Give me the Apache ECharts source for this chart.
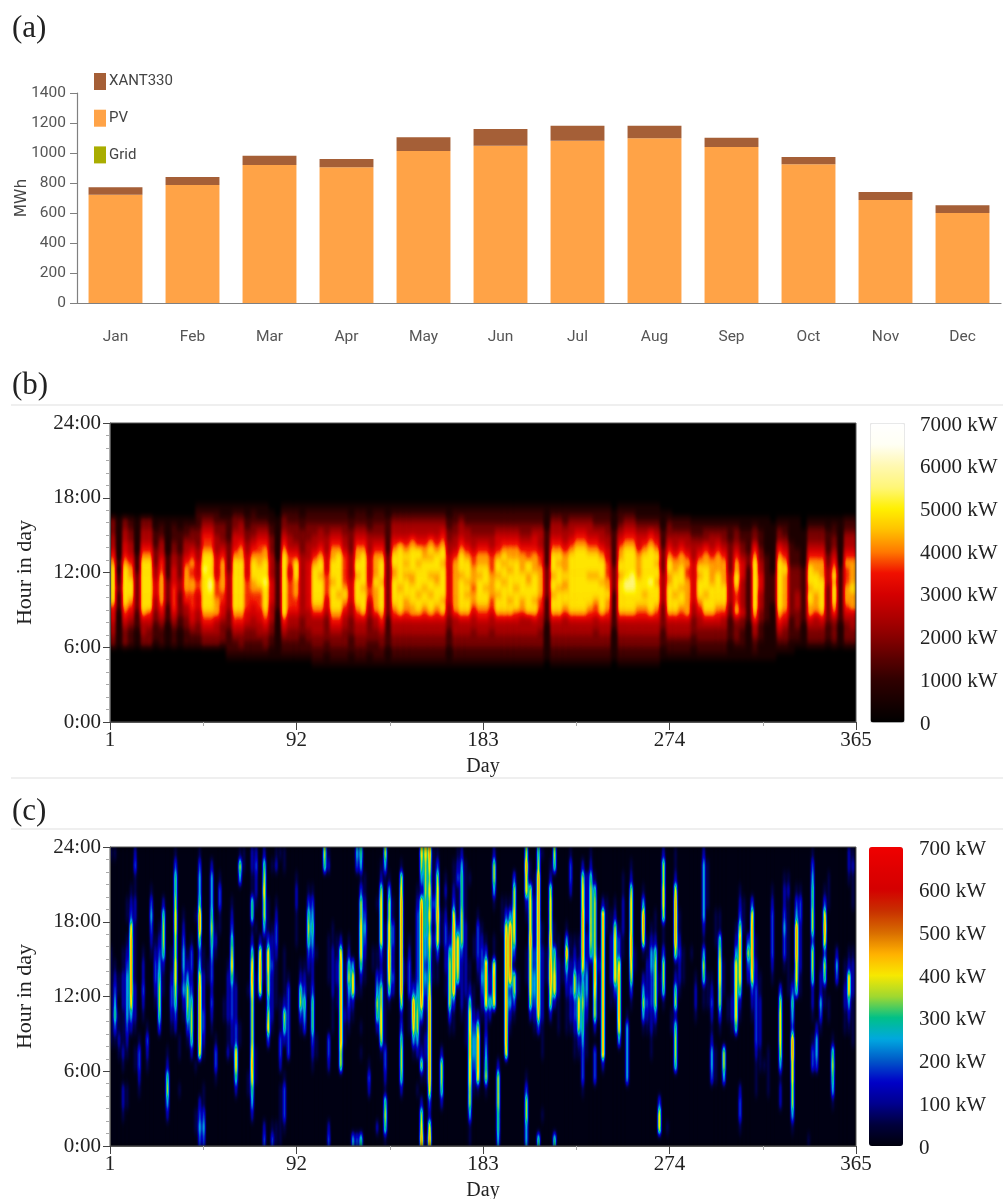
<!DOCTYPE html>
<html><head><meta charset="utf-8"><style>html,body{margin:0;background:#fff}
#c{position:absolute;left:0;top:0;width:1003px;height:1199px;z-index:2}
.clip{position:absolute;left:110px;width:746px;height:299px;overflow:hidden;background:#000;z-index:1}
.clip>div{width:746px;height:299px}</style>
<script src="https://cdn.jsdelivr.net/npm/echarts@6/dist/echarts.min.js"></script></head><body>
<svg width="0" height="0" style="position:absolute" id="fx"></svg>
<div class="clip" style="top:423px"><div id="pvHeat"></div></div>
<div class="clip" style="top:847px"><div id="windHeat"></div></div>
<div id="c"></div>
<script>
const months=['Jan','Feb','Mar','Apr','May','Jun','Jul','Aug','Sep','Oct','Nov','Dec'];
const pvMonthly=[722,787,920,905,1013,1049,1082,1098,1040,925,686,600];
const xantMonthly=[50,53,62,55,92,111,100,84,62,48,54,52];
const gridMonthly=[0,0,0,0,0,0,0,0,0,0,0,0];
const pvLevels=[0,610,1220,1830,2440,3050,3660,4270,4880,5490];
const windLevels=[14,80,165,255,345,430,500,570,640,700];
const pvStops=['#000000','#180000','#300000','#5a0000','#880000','#b00000','#d40000','#f01000','#ff7a00','#ffc000','#fff000','#fff678','#fff8b0','#fffff4','#ffffff'];
const windStops=['#00000c','#00003c','#000090','#0000c8','#0058c8','#00a8e0','#00c088','#a0d830','#f8e800','#ffb000','#d86c00','#c83000','#d40000','#e00000','#f00000'];
// PV power: one string per 3 days, half-hour cells from 4:30 to 17:30, level 0-9
const pvColsA=[
"0003 3445 5688 8888 7654 4333 00","0001 1111 1222 3221 2111 1111 00","0003 3345 6788 8888 7655 4433 00","0002 2234 5678 8877 6544 3322 00",
"0001 1122 2333 3332 2211 1111 00","0003 3445 7888 8888 8765 4433 00","0003 3345 6888 8888 8765 4433 00","0001 2223 3445 5544 3332 2211 00",
"0002 2234 5677 7776 6544 3221 00","0001 1112 2233 3322 2211 1111 00","0002 2234 5666 6555 4433 2221 00","0001 1122 3333 4433 3322 2211 00",
"0002 2233 4466 7777 6544 3221 00","0002 2345 5666 7766 7654 3321 00","0002 2334 4555 6655 5443 3322 21","0003 3456 7888 8889 8876 6543 21",
"0003 3456 7888 9988 8876 6543 21","0003 3445 7776 6655 5544 4332 21","0002 3334 5566 7777 7654 3332 11","0122 2233 3444 4443 3333 2222 11",
"0122 3456 7888 8888 8765 5433 21","0123 3456 7888 8888 8776 5443 21","0122 3345 5666 6655 5544 3322 11","0122 3344 5566 7788 8765 4332 21",
"0122 3445 5666 7888 7766 5432 11","0123 3456 7888 8988 8776 5432 11","0112 2334 4455 5544 4433 3221 10","0111 1111 1222 2222 2111 1111 00",
"0122 3456 8888 8888 8876 5433 21","0122 3344 5666 6655 6654 4332 21"];
const pvColsB=[
"0122 3344 5667 7788 8654 3332 21","0122 2333 4444 4444 4433 3322 11","0122 3344 4555 5555 5444 3332 21","1223 3444 6788 8888 7654 4332 21",
"1223 3444 6788 8878 8765 4432 21","1122 3333 4556 6665 5544 4332 21","1223 3456 7888 8788 8776 5432 21","1223 3456 7887 8888 8876 5432 21",
"1223 3344 5678 7666 6654 4332 21","1122 2333 4455 5544 4433 3322 11","1223 3445 6788 8878 8776 5432 21","1223 3445 7888 7888 8876 5432 21",
"1122 3333 4456 6555 5544 4322 11","1222 3344 6777 7877 7765 4332 21","1223 3456 7888 8788 8765 4332 21","1112 2222 3333 3333 3322 2222 11",
"1223 3445 6788 8877 8876 5443 21","1223 3445 7888 7888 8887 5443 21","1223 3445 6778 8878 7876 5443 21","1223 3445 7788 8778 8887 6443 21",
"1223 3445 7887 8888 7886 5443 21","1223 3445 6788 7888 8776 5443 21","1223 3445 7887 8878 8787 6443 21","1223 3445 6788 8778 8876 5443 21",
"1223 3445 7878 8888 7887 6543 21","1112 2233 4455 5555 5544 3322 11","1223 3444 6777 7777 7654 4332 21","1223 3445 7888 8878 8876 5443 21",
"1223 3445 7887 8788 8765 4432 21","1223 3344 5677 6777 6654 4332 21","1223 3445 6788 8878 7765 4332 21"];
const pvColsC=[
"1223 3445 6788 7888 7765 4332 21","1223 3344 5667 7776 6654 4332 21","1223 3445 7887 8878 8765 5432 21","1223 3445 7888 8788 7876 5432 21",
"1223 3445 7878 8887 8776 5432 21","1223 3445 6888 7888 8776 5432 21","1223 3444 6778 8887 7765 4332 21","1223 3444 7888 8778 8665 4332 21",
"1223 3445 7878 8887 7765 5432 21","1223 3344 5667 7777 6654 4432 21","0111 1112 2223 3333 2222 2211 11","1223 3445 7887 8878 8876 5443 21",
"1223 3445 7888 7888 7876 5443 21","1223 3444 6788 7787 7765 4432 21","1223 3445 7888 8888 8876 5443 21","1223 3445 7888 8888 8887 6543 21",
"1223 3445 7888 8888 8887 6543 21","1223 3445 6788 8878 8876 5443 21","1223 3344 6678 8878 8876 5432 21","1223 3445 7888 8788 8765 4432 21",
"1223 3445 6778 7766 6554 4332 21","0111 1122 2222 3333 2222 2211 10","1223 3445 7888 8878 8776 5432 21","1223 3445 7888 9988 8887 6543 21",
"1223 3445 7888 9998 8887 6543 21","1223 3445 6788 8877 7765 5432 11","1223 3445 6787 8888 8876 5432 11","1223 3445 7888 8988 8887 6532 11",
"1223 3445 6788 8788 7876 5432 11","0112 2233 3344 4443 3332 2211 10"];
const pvColsD=[
"0122 3445 7888 8778 8765 4332 10","0122 3445 7887 8887 7654 4322 00","0122 3445 6788 7888 7765 4322 00","0122 3445 7777 7766 7654 4322 00",
"0112 2333 4455 5555 5444 3221 00","0122 3344 5678 8878 7654 3221 00","0122 3345 7887 8888 7765 3321 00","0122 3345 7888 8777 7654 4321 00",
"0122 3345 6788 8887 7765 4321 00","0122 3344 6788 8777 7654 3321 00","0111 2222 3344 4443 3333 2221 00","0112 3334 7766 7887 7654 3321 00",
"0112 2233 5444 4455 5433 2211 00","0111 1112 2222 2222 3322 2211 00","0122 3446 7888 8888 8765 3321 00","0111 2223 3444 5554 4332 2211 00",
"0111 1112 2222 2222 2211 1111 00","0111 1111 1122 2221 1111 1110 00","0012 3456 7888 8888 8765 3321 00","0012 3345 6777 7778 7654 3221 00",
"0011 2222 3333 3333 2222 1111 00","0001 2233 3444 3333 2221 1111 00","0001 1112 2222 2222 1111 1100 00","0002 3345 7788 7888 7654 3321 00",
"0002 3344 6777 8887 7654 3321 00","0002 3345 7888 8877 7654 3321 00","0001 2223 3333 3444 3322 2211 00","0002 3334 6788 8787 6543 3221 00",
"0001 1112 2222 2222 1111 1111 00","0002 3334 5677 7666 7654 4322 00","0002 3344 5777 8777 7654 4322 00"];
// Wind power: one string per 2 days, hourly cells from 0:00 to 24:00, level 0-9
const windColsA=[
"000000 001111 111100 000001","000000 001354 321000 000001","000000 012110 110000 000000","001220 121112 221100 000000","000110 012344 443210 110000",
"000000 000247 888887 321000","000000 110122 211111 221132","000012 331000 000000 000000","000000 000012 322100 000000","000000 123100 000000 000000",
"000000 000000 000123 431000","000000 000001 233210 000000","000000 000356 654321 000000","000000 000000 112566 520000","002465 210000 000000 000000",
"000000 000123 321100 000000","000000 000235 677667 765531","000010 011000 100000 000000","000000 000012 434432 100000","000000 001356 642100 000000",
"000000 025665 323310 000000","011000 100000 000000 100000","343200 078888 874358 854431","343110 012332 221100 000000","000000 000000 011000 000000",
"000000 000123 233456 544420","000001 331000 000121 000000","000000 000000 000001 133100","000000 000011 000000 000000","000000 021122 221000 000000",
"000000 012233 357653 210000","000025 773322 210000 000000","000000 001100 000000 000461","000000 000000 000000 000011","000011 000000 100000 000000",
"002457 876666 787521 551122","000001 110000 110001 012232","000000 000000 788720 000000","320000 000000 011114 667652","000000 003764 667731 110000",
"310000 000122 223221 000010","110000 000001 111233 210021","111110 233111 000000 000001","013331 002562 111100 000011","000000 033333 310000 000000",
"000000 000000 000000 000000"];
const windColsB=[
"000000 000000 000011 122100","000000 000136 521000 000000","000000 000345 321000 000000","000000 000000 112356 531000","000000 123555 322345 431000",
"000000 011000 000100 000000","000000 000000 000000 000000","000000 000000 000000 000056","320000 233000 011110 000021","000000 000111 222211 000000",
"000000 000001 122110 000000","000000 668888 888720 000000","000000 001121 111000 000000","000000 000123 465210 000000","400000 000012 774000 000000",
"300000 000000 100000 000034","500000 010100 125777 663145","000000 000000 011234 321100","000023 100000 000000 000000","000000 000000 001100 000000",
"020000 000256 431100 010000","000000 016776 632377 776210","156512 331111 111111 000146","000000 000001 578877 664100","000000 000000 232233 110000",
"000000 000000 000000 000000","000025 665326 888888 887610","000000 000000 011000 000000","000000 000111 333210 000000","000000 014788 310000 000000",
"000010 024665 433333 321000","876201 621148 999999 982467","100001 122112 343445 556667","872378 888888 765676 767678","000000 000000 011121 231111",
"000000 000000 011377 877631","000256 620000 000011 100000","000000 000000 112233 212100","000000 000136 666521 000000","000000 000113 888888 732110",
"000000 000000 167773 111321","000000 000012 222366 655542","000000 001111 222222 111110","114667 788775 211000 000100","000012 344321 100110 000000",
"000017 888620 012333 100000"];
const windColsC=[
"000000 000012 343321 000000","000016 543227 888310 000000","000000 000025 221000 000000","000000 000007 887110 014662","455666 200000 000000 000000",
"000000 000000 000001 110000","000000 078888 888887 310000","000000 000124 389998 410000","000000 000013 661367 766300","000000 000000 110000 000000",
"000000 000000 000000 000000","446631 000000 011100 127786","000000 000026 777787 776110","000000 000123 443322 221100","500000 000378 888888 888865",
"001000 011122 222211 000001","000000 000000 011100 000000","000000 000026 788787 776210","500000 000002 776511 000056","000000 000111 222110 000000",
"000000 000000 011000 000000","000000 000111 235841 000000","000000 000122 322110 002331","000000 011233 663210 000000","000000 012677 432110 000000",
"000013 334556 547888 877620","000000 011123 443221 222200","000000 000000 001566 666521","000003 330266 788666 665100","000000 000011 112100 000000",
"000000 288888 888888 820000","000000 000000 000001 110000","000000 000001 122221 100000","000000 000001 377776 210000","000000 004788 887331 000000",
"000000 000000 000112 221100","000004 444410 000000 000000","000000 000001 367887 776210","000000 000000 001100 000000","000000 000000 000000 000000",
"000000 000146 420178 841000","000000 000123 222110 000000","000000 011223 334421 000000","000000 000136 666521 100000","077300 000000 110000 000000",
"000000 000001 566311 677662"];
const windColsD=[
"010000 000000 000000 000000","000000 000110 000000 000000","000000 566526 521688 887211","000000 000000 122321 100000","000000 000000 011100 000000",
"000000 000000 000000 000000","000000 000000 000100 000000","000000 000012 210000 000000","000000 000000 000000 000000","000000 000001 156412 444442",
"000000 000001 110000 011110","000003 442123 210000 000000","000001 110000 000011 100000","000000 000136 677651 100000","000004 660000 111000 000000",
"000000 000011 000000 000000","000000 000122 111000 000000","000000 000577 777421 000000","013320 000012 577886 321000","000000 000000 000001 110000",
"000000 000000 023630 000000","000000 000012 378888 730000","000011 123333 322110 000000","000000 112222 110000 000000","000000 100000 000000 000000",
"000011 110000 000000 000000","000000 000000 012333 321000","000000 000000 000000 000000","000221 467776 300000 000000","000000 000000 001334 322100",
"000000 000000 111111 112100","014667 788345 310000 000000","000000 000000 577888 431000","000000 000000 112222 331000","000000 000000 000000 000000",
"100000 000000 000000 000000","000000 331012 256636 655431","000000 344200 000000 000000","000000 000134 221000 000000","000000 000001 156378 731000",
"000000 000011 000000 011100","000145 651000 000000 000000","000000 000000 034200 000000","000000 000000 000000 000000","000000 000112 211000 000000",
"000000 000124 772100 000122","000000 001111 222100 011121"];

const pvCols=[...pvColsA,...pvColsB,...pvColsC,...pvColsD];
const windCols=[...windColsA,...windColsB,...windColsC,...windColsD];
const pvCells=[];
pvCols.forEach((s,x)=>{[...s.replace(/ /g,'')].forEach((d,i)=>pvCells.push([x,9+i,pvLevels[+d]]));});
const windCells=[];
windCols.forEach((s,x)=>{[...s.replace(/ /g,'')].forEach((d,i)=>windCells.push([x*2,i,windLevels[+d]]));});
const seq=n=>Array.from({length:n},(_,i)=>i);

// Smooth rendering of the cells: the cells are drawn as grey levels, softened, then coloured with the same stops as the colour bars.
function filterDef(id,stops,blur){
  const ch=k=>stops.map(h=>(parseInt(h.substr(1+2*k,2),16)/255).toFixed(3)).join(' ');
  return `<filter id="${id}" x="0" y="0" width="100%" height="100%" color-interpolation-filters="sRGB">
   <feGaussianBlur stdDeviation="${blur}"/><feComponentTransfer>
   <feFuncR type="table" tableValues="${ch(0)}"/><feFuncG type="table" tableValues="${ch(1)}"/><feFuncB type="table" tableValues="${ch(2)}"/>
   </feComponentTransfer></filter>`;
}
document.getElementById('fx').innerHTML=filterDef('pvFx',pvStops,'1.6 3')+filterDef('windFx',windStops,'0.9 3.6');
function heat(id,cells,nx,ny,max,fx){
  const el=document.getElementById(id); el.style.filter=`url(#${fx})`;
  const h=echarts.init(el,null,{renderer:'canvas'});
  h.setOption({animation:false,backgroundColor:'#000',
    grid:{left:0,right:0,top:0,bottom:0,outerBoundsMode:'none'},
    xAxis:{type:'category',show:false,data:seq(nx)},yAxis:{type:'category',show:false,data:seq(ny)},
    visualMap:{show:false,type:'continuous',dimension:2,min:0,max:max,inRange:{color:['#000000','#ffffff']}},
    series:[{type:'heatmap',data:cells,progressive:0,silent:true}]});
}
heat('pvHeat',pvCells,pvCols.length,48,7000,'pvFx');
heat('windHeat',windCells,windCols.length*2,24,700,'windFx');

const serif='"Liberation Serif",serif', narrow='Roboto,sans-serif';
const barAxis={lineStyle:{color:'#808080',width:1.2}};
const dayAxis=(g)=>({type:'value',gridIndex:g,position:'bottom',min:0,max:364,interval:91,
  name:'Day',nameLocation:'middle',nameGap:35,nameTextStyle:{fontSize:20,fontFamily:serif,color:'#222'},
  axisLine:{show:true,lineStyle:{color:'#555'}},axisTick:{show:true,length:8,lineStyle:{color:'#444'}},
  minorTick:{show:true,splitNumber:2,length:4,lineStyle:{color:'#aaa'}},splitLine:{show:false},minorSplitLine:{show:false},
  axisLabel:{formatter:v=>String(v+1),fontSize:21,fontFamily:serif,color:'#222',margin:8}});
const hourAxis=(g)=>({type:'value',gridIndex:g,position:'left',min:0,max:24,interval:6,
  name:'Hour in day',nameLocation:'middle',nameGap:74,nameTextStyle:{fontSize:22,fontFamily:serif,color:'#222'},
  axisLine:{show:true,lineStyle:{color:'#555'}},axisTick:{show:true,length:7,lineStyle:{color:'#444'}},
  minorTick:{show:true,splitNumber:6,length:4,lineStyle:{color:'#aaa'}},splitLine:{show:false},minorSplitLine:{show:false},
  axisLabel:{formatter:v=>v+':00',fontSize:21,fontFamily:serif,color:'#222',margin:9}});
const catX=(g,n)=>({type:'category',gridIndex:g,position:'top',show:false,data:seq(n)});
const catY=(g,n)=>({type:'category',gridIndex:g,position:'right',show:false,data:seq(n)});
const cbX=g=>({type:'value',gridIndex:g,position:'bottom',show:false,min:0,max:1});
const cbY=(g,max,int)=>({type:'value',gridIndex:g,position:'right',min:0,max:max,interval:int,
  axisLine:{show:false},axisTick:{show:false},splitLine:{show:false},
  axisLabel:{formatter:v=>v===0?'0':v+' kW',fontSize:21,fontFamily:serif,color:'#222',margin:16,align:'left'}});
const panel=(t,y)=>({type:'text',left:12,top:y,style:{text:t,font:'31px '+serif,fill:'#222'}});
const rule=y=>({type:'line',shape:{x1:11,y1:y,x2:1003,y2:y},style:{stroke:'#efefef',lineWidth:2}});

const chart=echarts.init(document.getElementById('c'),null,{renderer:'canvas'});
const gridBase={outerBoundsMode:'none'};
chart.setOption({
  animation:false,backgroundColor:'transparent',
  graphic:[panel('(a)',13),panel('(b)',370),panel('(c)',796),rule(405),rule(778),rule(829)],
  legend:{orient:'vertical',left:94,top:73,padding:0,itemWidth:12,itemHeight:17,itemGap:19.7,icon:'rect',
    data:['XANT330','PV','Grid'],textStyle:{fontSize:15,fontFamily:narrow,color:'#444',padding:[0,0,0,-2]}},
  grid:[
    {...gridBase,left:77,top:93,width:924,height:210},
    {...gridBase,left:110,top:423,width:746,height:299,show:true,backgroundColor:'transparent',borderColor:'#555',borderWidth:1},
    {...gridBase,left:110,top:847,width:746,height:299,show:true,backgroundColor:'transparent',borderColor:'#555',borderWidth:1},
    {...gridBase,left:870,top:425,width:34,height:299},
    {...gridBase,left:869,top:849,width:34,height:299}],
  xAxis:[
    {type:'category',gridIndex:0,data:months,axisLine:barAxis,axisTick:{length:8,lineStyle:{color:'#808080'}},
     axisLabel:{fontSize:15.5,fontFamily:narrow,color:'#555',margin:26}},
    catX(1,pvCols.length),dayAxis(1),catX(2,windCols.length*2),dayAxis(2),cbX(3),cbX(4)],
  yAxis:[
    {type:'value',gridIndex:0,min:0,max:1400,interval:200,name:'MWh',nameLocation:'middle',nameGap:47,nameMoveOverlap:false,
     nameTextStyle:{fontSize:15.5,fontFamily:'"DejaVu Sans",sans-serif',color:'#444'},
     axisLine:{show:true,...barAxis},axisTick:{show:true,length:7,lineStyle:{color:'#808080'}},splitLine:{show:false},
     axisLabel:{formatter:v=>String(v),fontSize:15.5,fontFamily:narrow,color:'#555',margin:11}},
    catY(1,48),hourAxis(1),catY(2,24),hourAxis(2),cbY(3,7000,1000),cbY(4,700,100)],
  visualMap:[
    {type:'continuous',seriesIndex:3,dimension:2,min:0,max:7000,left:870,top:423,itemWidth:34,itemHeight:299,padding:0,calculable:false,hoverLink:false,
     borderColor:'#e6e6e6',borderWidth:1,inRange:{color:pvStops}},
    {type:'continuous',seriesIndex:4,dimension:2,min:0,max:700,left:869,top:847,itemWidth:34,itemHeight:299,padding:0,calculable:false,hoverLink:false,
     inRange:{color:windStops}}],
  series:[
    {name:'PV',type:'bar',stack:'m',barWidth:'70%',xAxisIndex:0,yAxisIndex:0,data:pvMonthly,itemStyle:{color:'#ffa347'}},
    {name:'XANT330',type:'bar',stack:'m',xAxisIndex:0,yAxisIndex:0,data:xantMonthly,itemStyle:{color:'#a55f37'}},
    {name:'Grid',type:'bar',stack:'m',xAxisIndex:0,yAxisIndex:0,data:gridMonthly,itemStyle:{color:'#a9ad00'}},
    {type:'heatmap',xAxisIndex:1,yAxisIndex:1,data:[],silent:true},
    {type:'heatmap',xAxisIndex:3,yAxisIndex:3,data:[],silent:true}]
});
</script></body></html>
